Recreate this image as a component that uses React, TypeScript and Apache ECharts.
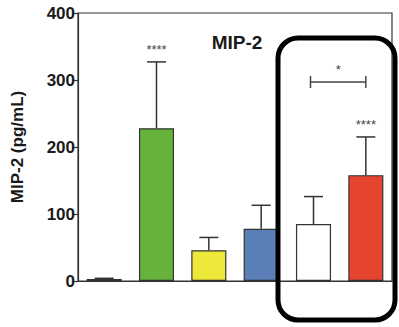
import React, { useEffect, useRef } from "react";
import * as echarts from "echarts";

const categories = ["Control", "G2", "G3", "G4", "G5", "G6"];
const means = [3, 228, 46, 78, 85, 158];
const errors = [1, 99, 19, 35, 41, 57];
const barColors = ["#1a1a1a", "#66b23b", "#ede83a", "#5b80b8", "#ffffff", "#e5452f"];
const stars = ["", "****", "", "", "", "****"];
const yTicks = { min: 0, max: 400, interval: 100 };
const bracket = { from: 4, to: 5, y: 297, label: "*" };

const NARROW = "'Liberation Sans Narrow', 'Liberation Sans', Arial, sans-serif";
const SANS = "'Liberation Sans', Arial, sans-serif";

export default function App() {
  const ref = useRef<HTMLDivElement>(null);
  useEffect(() => {
    const chart = echarts.init(ref.current!, null, { renderer: "svg" });
    chart.setOption({
      animation: false,
      grid: {
        left: 78,
        right: 7,
        top: 13,
        bottom: 46,
        show: true,
        borderColor: "#333",
        borderWidth: 1.2,
      },
      graphic: [
        {
          type: "text",
          x: 237,
          y: 42,
          style: {
            text: "MIP-2",
            font: `bold 19px ${NARROW}`,
            fill: "#1a1a1a",
            textAlign: "center",
            textVerticalAlign: "middle",
          },
        },
        {
          type: "rect",
          z: 100,
          shape: { x: 278, y: 38, width: 117, height: 282, r: 20 },
          style: { fill: "none", stroke: "#000", lineWidth: 5 },
        },
      ],
      xAxis: {
        type: "category",
        data: categories,
        axisLine: { show: true, lineStyle: { color: "#333", width: 1.2 } },
        axisTick: { show: false },
        axisLabel: { show: false },
      },
      yAxis: {
        type: "value",
        min: yTicks.min,
        max: yTicks.max,
        interval: yTicks.interval,
        name: "MIP-2 (pg/mL)",
        nameLocation: "middle",
        nameGap: 52,
        nameRotate: 90,
        nameTextStyle: { fontFamily: SANS, fontWeight: "bold", fontSize: 17, color: "#1a1a1a" },
        axisLine: { show: true, lineStyle: { color: "#333", width: 1.2 } },
        axisTick: { show: true, length: 5, lineStyle: { color: "#333", width: 1.2 } },
        splitLine: { show: false },
        axisLabel: {
          fontFamily: NARROW,
          fontWeight: "bold",
          fontSize: 17,
          color: "#1a1a1a",
          margin: 3,
        },
      },
      series: [
        {
          type: "bar",
          barWidth: "67%",
          data: means.map((v, i) => ({
            value: v,
            itemStyle: { color: barColors[i], borderColor: "#333", borderWidth: 1.2 },
          })),
        },
        {
          type: "custom",
          z: 5,
          data: means.map((v, i) => [i, v, v + errors[i], stars[i]]),
          renderItem: (params: any, api: any) => {
            const i = api.value(0);
            const base = api.coord([i, api.value(1)]);
            const top = api.coord([i, api.value(2)]);
            const idx = params.dataIndex;
            const children: any[] = [
              {
                type: "line",
                shape: { x1: base[0], y1: base[1], x2: top[0], y2: top[1] },
                style: { stroke: "#333", lineWidth: 1.5 },
              },
              {
                type: "line",
                shape: { x1: top[0] - 9.5, y1: top[1], x2: top[0] + 9.5, y2: top[1] },
                style: { stroke: "#333", lineWidth: 1.5 },
              },
            ];
            if (stars[idx]) {
              children.push({
                type: "text",
                x: top[0],
                y: top[1] - 6,
                style: {
                  text: stars[idx],
                  font: `13px ${SANS}`,
                  fill: "#444",
                  textAlign: "center",
                  textVerticalAlign: "bottom",
                },
              });
            }
            return { type: "group", children };
          },
        },
        {
          type: "custom",
          z: 5,
          data: [[bracket.from, bracket.to, bracket.y]],
          renderItem: (params: any, api: any) => {
            const a = api.coord([api.value(0), api.value(2)]);
            const b = api.coord([api.value(1), api.value(2)]);
            const x1 = a[0] - 3;
            const x2 = b[0];
            const y = a[1];
            return {
              type: "group",
              children: [
                { type: "line", shape: { x1, y1: y, x2, y2: y }, style: { stroke: "#444", lineWidth: 1.5 } },
                { type: "line", shape: { x1, y1: y - 6, x2: x1, y2: y + 6 }, style: { stroke: "#444", lineWidth: 1.5 } },
                { type: "line", shape: { x1: x2, y1: y - 6, x2, y2: y + 6 }, style: { stroke: "#444", lineWidth: 1.5 } },
                {
                  type: "text",
                  x: (x1 + x2) / 2,
                  y: y - 6,
                  style: {
                    text: bracket.label,
                    font: `13px ${SANS}`,
                    fill: "#444",
                    textAlign: "center",
                    textVerticalAlign: "bottom",
                  },
                },
              ],
            };
          },
        },
      ],
    });
    return () => chart.dispose();
  }, []);
  return <div ref={ref} style={{ width: 399, height: 327, position: "absolute", left: 0, top: 0 }} />;
}
